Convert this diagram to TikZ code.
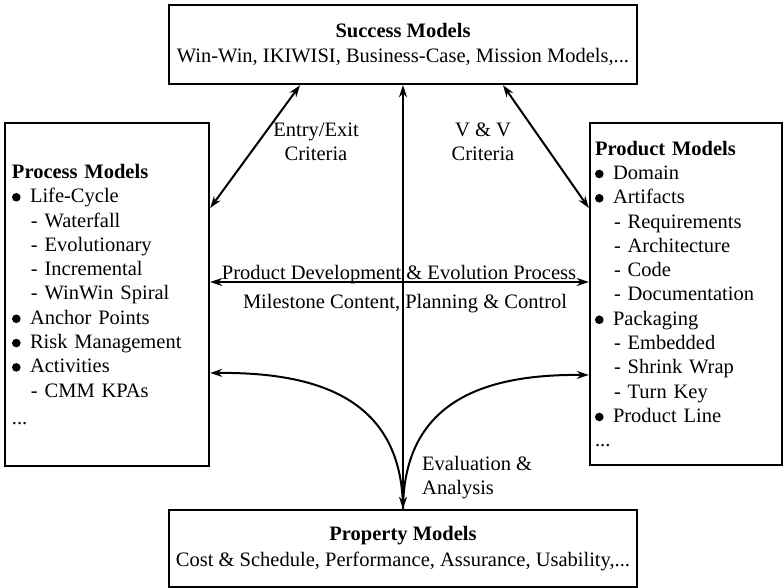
\documentclass[tikz,border=0pt]{standalone}
\usepackage{fontspec}
\setmainfont{Liberation Serif}
\usetikzlibrary{arrows.meta}
\newcommand\bul{\makebox[18pt][l]{\tikz[baseline=0pt,x=1pt,y=1pt]\fill (4.5,5.5) circle (4.3);}}
\newcommand\sub{\hspace*{19pt}- }
\begin{document}
\begin{tikzpicture}[x=1pt,y=-1pt,
  font=\fontsize{20.5}{24.3}\selectfont,
  box/.style={draw,line width=2.4pt,inner sep=0pt},
  lbl/.style={inner sep=0pt},
  arr/.style={line width=2pt,{Stealth[length=12pt,width=8pt]}-{Stealth[length=12pt,width=8pt]}},
  carr/.style={line width=2pt,{Stealth[length=12pt,width=8pt]}-}]
\useasboundingbox (0,0) rectangle (784,588);
% boxes
\node[box,minimum width=468pt,minimum height=79pt,align=center] (S) at (403,44.5)
  {\textbf{Success Models}\\[1pt]Win-Win, IKIWISI, Business-Case, Mission Models,...};
\node[box,minimum width=468pt,minimum height=77pt,align=center] (P) at (403,548.5)
  {\textbf{Property Models}\\[1pt]Cost \& Schedule, Performance, Assurance, Usability,...};
\node[box,minimum width=204pt,minimum height=343pt,text width=190pt,align=left] (PR) at (107,294.5)
  {\textbf{Process Models}\\
   \bul Life-Cycle\\
   \sub Waterfall\\
   \sub Evolutionary\\
   \sub Incremental\\
   \sub WinWin Spiral\\
   \bul Anchor Points\\
   \bul Risk Management\\
   \bul Activities\\
   \sub CMM KPAs\\[3pt]
   ...};
\node[box,minimum width=192pt,minimum height=342pt,text width=182pt,align=left] (PD) at (686,294)
  {\textbf{Product Models}\\
   \bul Domain\\
   \bul Artifacts\\
   \sub Requirements\\
   \sub Architecture\\
   \sub Code\\
   \sub Documentation\\
   \bul Packaging\\
   \sub Embedded\\
   \sub Shrink Wrap\\
   \sub Turn Key\\
   \bul Product Line\\
   ...};
% connectors
\draw[arr] (S.south) -- (P.north);
\draw[arr] ([xshift=-103pt]S.south) -- (PR.east |- 0,208);
\draw[arr] ([xshift=100pt]S.south) -- (PD.west |- 0,208);
\draw[arr] (PR.east |- 0,282) -- (PD.west |- 0,282);
\draw[carr] (PR.east |- 0,373) .. controls (320,372) and (402,400) .. (P.north);
\draw[carr] (PD.west |- 0,375) .. controls (486,374) and (404,400) .. (P.north);
% labels
\node[lbl,align=center] (ee) at (316,142) {Entry/Exit\\Criteria};
\node[lbl,align=center] (vv) at (483,142) {V \& V\\Criteria};
\node[lbl,anchor=base] (pde) at (399,279) {Product Development \& Evolution Process};
\node[lbl,anchor=base] (mcp) at (405,308) {Milestone Content, Planning \& Control};
\node[lbl,align=left,anchor=north west] (ea) at (422,456) {Evaluation \&\\Analysis};
\end{tikzpicture}
\end{document}
